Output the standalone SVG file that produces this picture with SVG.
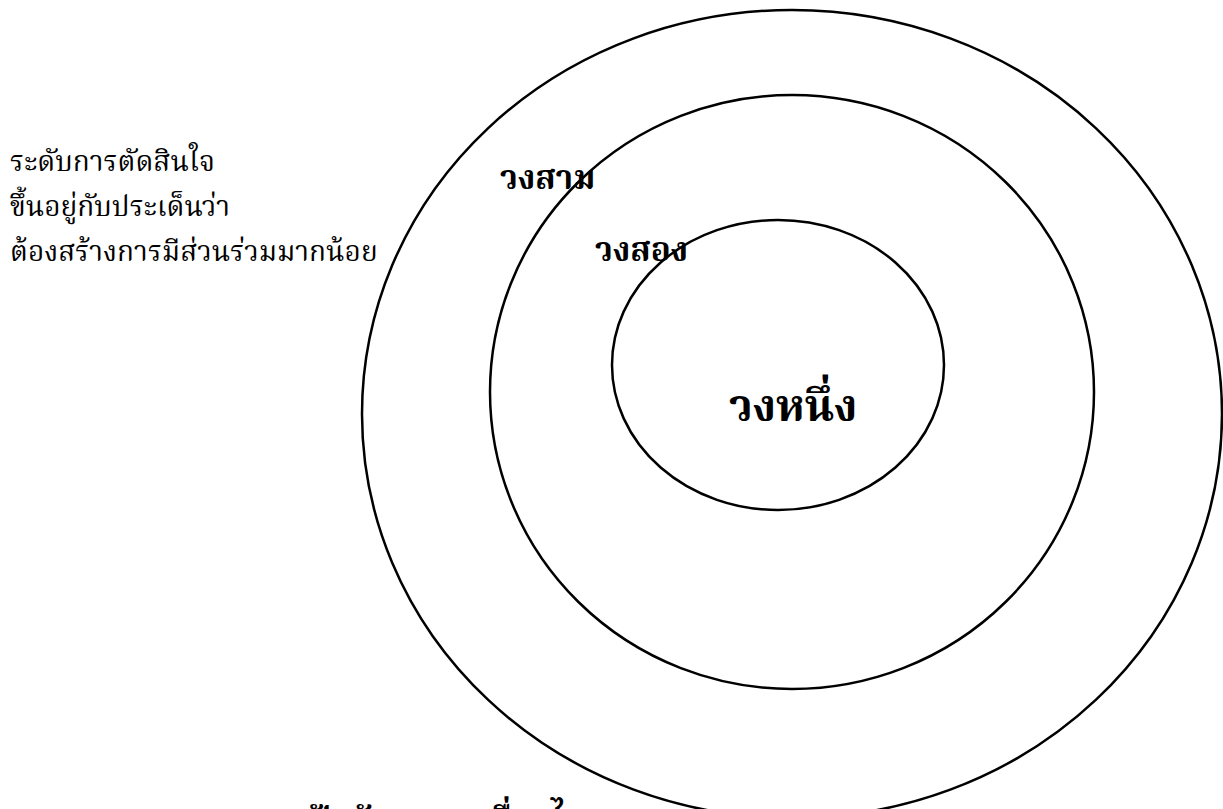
<svg xmlns="http://www.w3.org/2000/svg" width="1223" height="809" viewBox="0 0 1223 809">
<style>
.ring{fill:none;stroke:#000;stroke-width:2.5}
.t{font-family:"Norasi","Laksaman","Angsana New","TH Sarabun New","Noto Serif Thai","Liberation Serif",serif;fill:#000}
.n{font-size:28px}
.b{font-weight:bold}
</style>
<rect width="1223" height="809" fill="#fff"/>
<g id="ring-outer"><ellipse class="ring" cx="792" cy="414" rx="430" ry="404"/></g>
<g id="ring-middle"><ellipse class="ring" cx="792" cy="392" rx="302" ry="297"/></g>
<g id="ring-inner"><ellipse class="ring" cx="778" cy="365" rx="166" ry="145"/></g>
<g id="label-left">
<text class="t n" x="10" y="171">ระดับการตัดสินใจ</text>
<text class="t n" x="10" y="216">ขึ้นอยู่กับประเด็นว่า</text>
<text class="t n" x="10" y="261">ต้องสร้างการมีส่วนร่วมมากน้อย</text>
</g>
<g id="label-three"><text class="t b" x="500" y="189" font-size="33">วงสาม</text></g>
<g id="label-two"><text class="t b" x="595" y="261" font-size="33">วงสอง</text></g>
<g id="label-one"><text class="t b" x="729" y="421" font-size="44">วงหนึ่ง</text></g>
<g id="label-bottom"><text class="t b" y="830" font-size="32"><tspan x="310">ปัจจัย</tspan><tspan x="482">เงื่อนไข</tspan></text></g>
</svg>
